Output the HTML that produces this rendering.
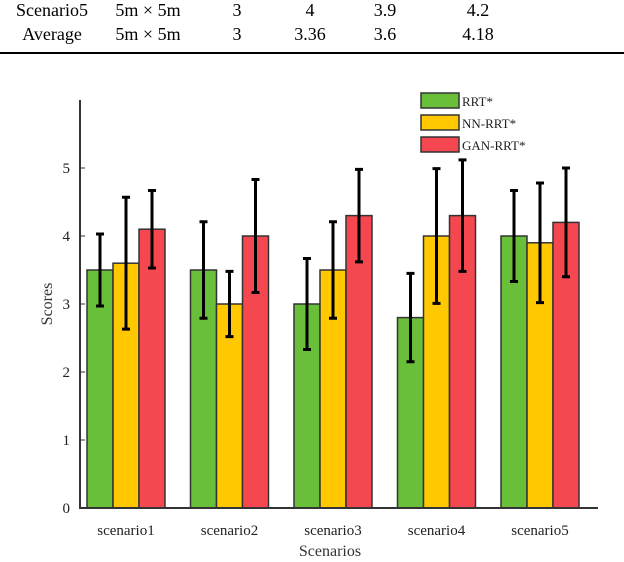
<!DOCTYPE html>
<html><head><meta charset="utf-8"><style>
body{margin:0;width:624px;height:562px;background:#fff;overflow:hidden;font-family:"Liberation Serif",serif;}
svg{position:absolute;left:0;top:0}
</style></head><body>
<svg width="624" height="562">
<g font-size="18" fill="#000">
<text x="52" y="16" text-anchor="middle">Scenario5</text>
<text x="148" y="16" text-anchor="middle">5m × 5m</text>
<text x="237" y="16" text-anchor="middle">3</text>
<text x="310" y="16" text-anchor="middle">4</text>
<text x="385" y="16" text-anchor="middle">3.9</text>
<text x="478" y="16" text-anchor="middle">4.2</text>
<text x="52" y="40" text-anchor="middle">Average</text>
<text x="148" y="40" text-anchor="middle">5m × 5m</text>
<text x="237" y="40" text-anchor="middle">3</text>
<text x="310" y="40" text-anchor="middle">3.36</text>
<text x="385" y="40" text-anchor="middle">3.6</text>
<text x="478" y="40" text-anchor="middle">4.18</text>
<rect x="0" y="52" width="624" height="2" fill="#000"/>
</g>
<g id="chart"></g>
</svg>
<script>
const categories=["scenario1","scenario2","scenario3","scenario4","scenario5"];
const series=["RRT*","NN-RRT*","GAN-RRT*"];
const colors=["#6abf3a","#ffc800","#f4474f"];
const rrt=[3.5,3.5,3.0,2.8,4.0];
const nnrrt=[3.6,3.0,3.5,4.0,3.9];
const ganrrt=[4.1,4.0,4.3,4.3,4.2];
const rrtErr=[0.53,0.71,0.67,0.65,0.67];
const nnErr=[0.97,0.48,0.71,0.99,0.88];
const ganErr=[0.57,0.83,0.68,0.82,0.8];
const yTicks=[0,1,2,3,4,5];
const NS="http://www.w3.org/2000/svg";
const g=document.getElementById('chart');
const x0=80,y0=508,unit=68,gap=103.5,c0=126,bw=26;
const Y=v=>y0-v*unit;
const X=i=>c0+i*gap;
function mk(t,a,txt){const e=document.createElementNS(NS,t);for(const k in a)e.setAttribute(k,a[k]);if(txt!==undefined)e.textContent=txt;g.appendChild(e);return e;}
const vals=[rrt,nnrrt,ganrrt],errs=[rrtErr,nnErr,ganErr];
categories.forEach((c,i)=>{
 vals.forEach((arr,s)=>{
  const cx=X(i)+(s-1)*bw;
  const r=mk('rect',{x:cx-bw/2,y:Y(arr[i]),width:bw,height:arr[i]*unit,fill:colors[s],stroke:'#333','stroke-width':1.5});
  
  
  const e=errs[s][i];
  const eg=mk('path',{d:`M${cx} ${Y(arr[i]+e)}V${Y(arr[i]-e)}M${cx-4} ${Y(arr[i]+e)}H${cx+4}M${cx-4} ${Y(arr[i]-e)}H${cx+4}`,stroke:'#000','stroke-width':3,fill:'none'});
  
  
 });
 const t=mk('text',{x:X(i),y:535,'text-anchor':'middle','font-size':15,fill:'#222'},c);
 
 
});
const ax=mk('path',{d:`M${x0} 100V${y0}H598`,stroke:'#333','stroke-width':2,fill:'none'});


yTicks.forEach(v=>{
 mk('path',{d:`M${x0} ${Y(v)}h5`,stroke:'#333','stroke-width':1});
 const t=mk('text',{x:x0-10,y:Y(v)+5,'text-anchor':'end','font-size':15,fill:'#222'},String(v));
 
 
});
const yt=mk('text',{x:0,y:0,transform:'translate(52,304) rotate(-90)','text-anchor':'middle','font-size':16,fill:'#333'},'Scores');


const xt=mk('text',{x:330,y:556,'text-anchor':'middle','font-size':16,fill:'#333'},'Scenarios');


series.forEach((s,k)=>{
 const y=93+k*22;
 const r=mk('rect',{x:421,y:y,width:38,height:15,fill:colors[k],stroke:'#333','stroke-width':1.5});
 
 
 const t=mk('text',{x:462,y:y+13,'font-size':13,fill:'#222'},s);
 
 
});
</script>
</body></html>
